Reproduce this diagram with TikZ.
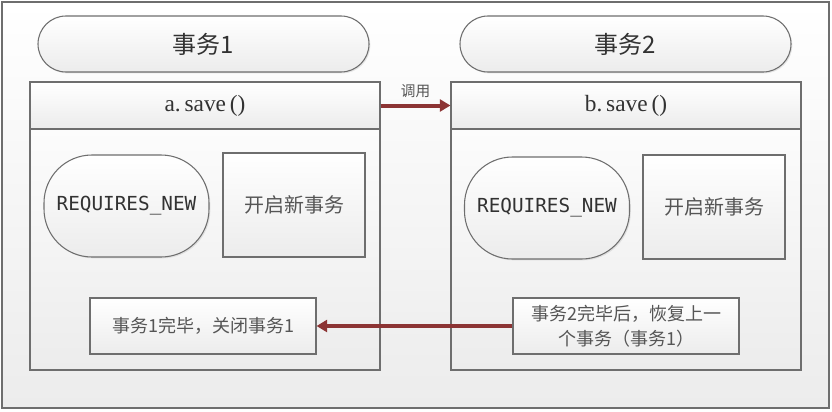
\documentclass[tikz,border=0pt]{standalone}
\usepackage{fontspec}
\setmainfont{Liberation Serif}
\newfontfamily\cjk{Noto Sans CJK SC}
\newfontfamily\monof{DejaVu Sans Mono}
\usetikzlibrary{shadows,arrows.meta}
\definecolor{edge}{RGB}{110,110,110}
\definecolor{shadebot}{RGB}{236,236,236}
\definecolor{bgbot}{RGB}{236,236,236}
\definecolor{txt}{RGB}{50,50,50}
\definecolor{txtl}{RGB}{85,85,85}
\definecolor{arr}{RGB}{140,52,52}
\tikzset{
  panel/.style={draw=edge, line width=0.8pt, top color=white, bottom color=shadebot, text=txt,
    drop shadow={opacity=0.18, shadow xshift=1pt, shadow yshift=-1pt}, inner sep=0pt},
  pill/.style={panel, rounded corners=21pt, minimum width=248.25pt, minimum height=42pt, font=\cjk\fontsize{18}{21}\selectfont},
  outerbox/.style={panel, minimum width=262.5pt, minimum height=216pt},
  header/.style={panel, minimum width=262.5pt, minimum height=35.25pt, font=\fontsize{17.5}{20}\selectfont},
  rq/.style={panel, rounded corners=36pt, minimum width=123.75pt, minimum height=76.5pt, font=\monof\fontsize{14.5}{17}\selectfont},
  kbox/.style={panel, minimum width=106.5pt, minimum height=78pt, text=txtl, font=\cjk\fontsize{15}{18}\selectfont},
  dbox/.style={panel, minimum width=169.5pt, minimum height=42pt, align=center, text=txtl, font=\cjk\fontsize{13.5}{19}\selectfont},
  link/.style={draw=arr, line width=3pt, -{Triangle[length=8pt,width=9pt]}, shorten >=0pt}
}
\begin{document}
\begin{tikzpicture}[x=0.75pt,y=-0.75pt]
\useasboundingbox (0,0) rectangle (832,411);
\node[draw=edge, line width=0.8pt, top color=white, bottom color=bgbot, minimum width=620.25pt, minimum height=304.5pt, inner sep=0pt] (bg) at (415.5,205) {};
\node[pill] (t1) at (203.5,44) {事务1};
\node[pill] (t2) at (625.5,44) {事务2};
\node[outerbox] (A) at (205,226) {};
\node[header] (ha) at (205,105.5) {a.\,save\,()};
\node[outerbox] (B) at (626,226) {};
\node[header] (hb) at (626,105.5) {b.\,save\,()};
\node[rq] (rqa) at (126.5,206) {REQUIRES\_NEW};
\node[kbox] (ka) at (294,205) {开启新事务};
\node[rq] (rqb) at (547,208) {REQUIRES\_NEW};
\node[kbox] (kb) at (714,207) {开启新事务};
\node[dbox] (da) at (203,326) {事务1完毕，关闭事务1};
\node[dbox] (db) at (626,326) {事务2完毕后，恢复上一\\个事务（事务1）};
\draw[link] (ha.east) -- node[above, text=txtl, font=\cjk\fontsize{11}{13}\selectfont, yshift=1pt] {调用} (hb.west);
\draw[link] (db.west) -- (da.east);
\end{tikzpicture}
\end{document}
